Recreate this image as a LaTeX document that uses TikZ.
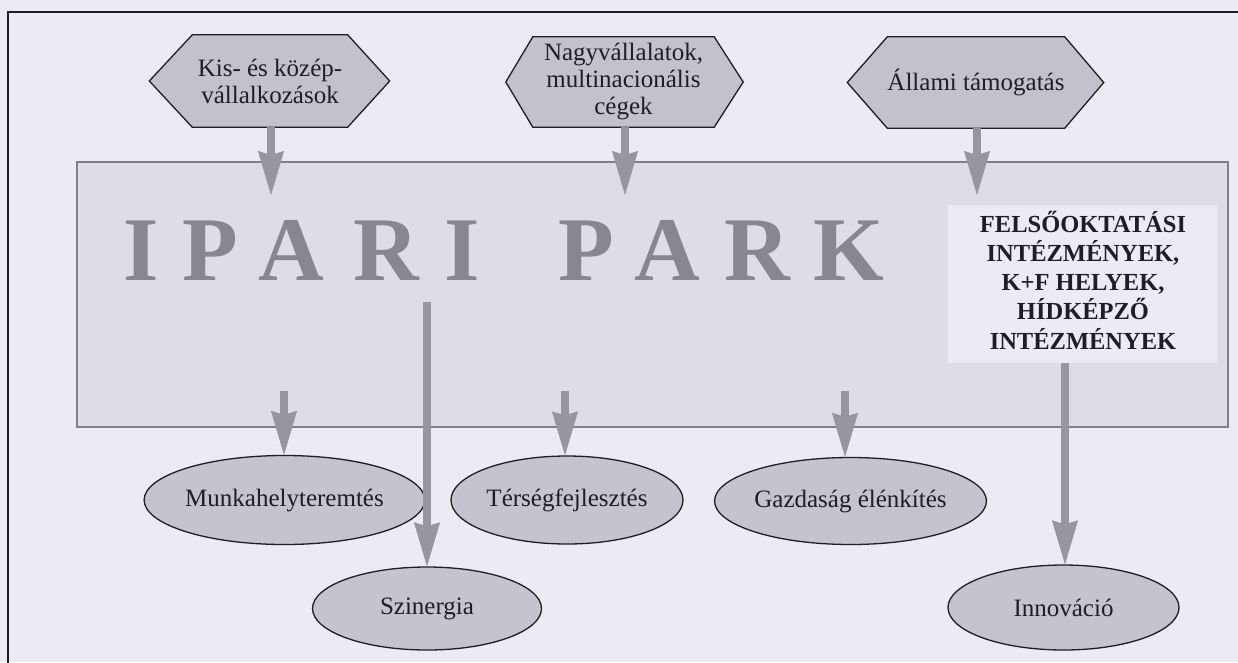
\documentclass[tikz,border=0pt]{standalone}
\usepackage{fontspec}
\setmainfont{Liberation Serif}
\usetikzlibrary{arrows.meta,shapes.geometric}
\pgfdeclarelayer{bg}
\pgfsetlayers{bg,main}
\definecolor{pagebg}{RGB}{234,235,243}
\definecolor{boxfill}{RGB}{220,221,230}
\definecolor{boxline}{RGB}{128,128,138}
\definecolor{hexfill}{RGB}{194,194,204}
\definecolor{ellfill}{RGB}{196,196,206}
\definecolor{arrowgray}{RGB}{150,150,160}
\definecolor{lettergray}{RGB}{135,135,146}
\definecolor{ink}{RGB}{30,30,36}
\begin{document}
\begin{tikzpicture}[x=1pt,y=-1pt,
  hexnode/.style={rectangle, inner sep=0pt, align=center, font=\fontsize{25}{27}\selectfont, text=ink},
  hexpoly/.style={fill=hexfill, draw=ink, line width=1.3pt, line join=miter},
  ellnode/.style={ellipse, draw=ink, line width=1.3pt, fill=ellfill, inner sep=0pt, font=\fontsize{25}{27}\selectfont, text=ink},
  garrow/.style={color=arrowgray, line width=8pt, line cap=butt, arrows={-Stealth[width=26pt,length=44pt,inset=4pt,line width=0.5pt]}}
]
\useasboundingbox (0,0) rectangle (1238,662);
\clip (0,0) rectangle (1238,662);
\begin{pgfonlayer}{bg}
\fill[pagebg] (0,0) rectangle (1238,662);
\end{pgfonlayer}
% outer frame
\draw[ink, line width=2pt] (8,700) -- (8,12) -- (1300,12);

% big box
\node[draw=boxline, line width=1.6pt, fill=boxfill, minimum width=1151pt, minimum height=265pt, inner sep=0pt] (park) at (652.5,294.5) {};
\node[anchor=base west, inner sep=0pt, font=\fontsize{91}{91}\bfseries\selectfont, text=lettergray] (ipari) at (141,280)
 {\makebox[0pt]{I}\hspace{69pt}\makebox[0pt]{P}\hspace{81pt}\makebox[0pt]{A}\hspace{95pt}\makebox[0pt]{R}\hspace{76pt}\makebox[0pt]{I}\makebox[0pt]{ }\hspace{124pt}\makebox[0pt]{P}\hspace{81pt}\makebox[0pt]{A}\hspace{90pt}\makebox[0pt]{R}\hspace{92pt}\makebox[0pt]{K}};
\node[fill=pagebg, minimum width=269pt, minimum height=158pt, inner sep=0pt] (felso) at (1082.5,284) {};
\node[inner sep=0pt, align=center, text=ink, font=\fontsize{24.5}{29.3}\bfseries\selectfont] (felsotext) at (1083,280)
 {FELSŐOKTATÁSI\\INTÉZMÉNYEK,\\K+F HELYEK,\\HÍDKÉPZŐ\\INTÉZMÉNYEK};

% hexagons
\node[hexnode, minimum width=155pt, minimum height=92pt] (h1) at (270,81) {Kis- és közép-\\vállalkozások};
\node[hexnode, minimum width=181pt, minimum height=90pt] (h2) at (623.5,82) {Nagyvállalatok,\\multinacionális\\cégek};
\node[hexnode, minimum width=163pt, minimum height=91pt] (h3) at (976,82.5) {Állami támogatás};
\begin{pgfonlayer}{bg}
\path[hexpoly] (h1.north west) -- (h1.north east) -- ([xshift=42pt]h1.east) -- (h1.south east) -- (h1.south west) -- ([xshift=-43pt]h1.west) -- cycle;
\path[hexpoly] (h2.north west) -- (h2.north east) -- ([xshift=29pt]h2.east) -- (h2.south east) -- (h2.south west) -- ([xshift=-27pt]h2.west) -- cycle;
\path[hexpoly] (h3.north west) -- (h3.north east) -- ([xshift=39pt]h3.east) -- (h3.south east) -- (h3.south west) -- ([xshift=-40pt]h3.west) -- cycle;
\end{pgfonlayer}

% ellipses
\node[ellnode, minimum width=233pt, minimum height=89pt] (m) at (284.5,500) {Munkahelyteremtés};
\node[ellnode, minimum width=232pt, minimum height=88pt] (t) at (567,500) {Térségfejlesztés};
\node[ellnode, minimum width=231pt, minimum height=87pt] (g) at (850.5,501) {Gazdaság élénkítés};
\node[ellnode, minimum width=229pt, minimum height=83pt] (s) at (427,608.5) {Szinergia};
\node[ellnode, minimum width=231pt, minimum height=85pt] (i) at (1063.5,607.5) {Innováció};

% arrows into the park
\coordinate (a1) at (271,195);
\coordinate (a2) at (625,195);
\coordinate (a3) at (977,195);
\draw[garrow] (h1.south -| a1) -- (a1);
\draw[garrow] (h2.south -| a2) -- (a2);
\draw[garrow] (h3.south -| a3) -- (a3);

% arrows out of the park
\coordinate (s1) at (284,391);
\coordinate (s2) at (427,302);
\coordinate (s3) at (565,391);
\coordinate (s4) at (845,391);
\coordinate (s5) at (1065,363);
\draw[garrow] (s1) -- (s1 |- m.north);
\draw[garrow] (s2) -- (s2 |- s.north);
\draw[garrow] (s3) -- (s3 |- t.north);
\draw[garrow] (s4) -- (s4 |- g.north);
\draw[garrow] (s5) -- (s5 |- i.north);
\end{tikzpicture}
\end{document}
